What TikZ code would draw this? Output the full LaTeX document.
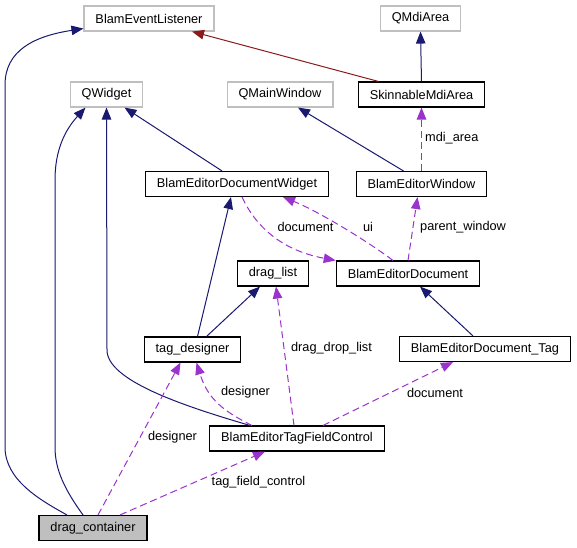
\documentclass[tikz,border=0pt]{standalone}
\usepackage{fontspec}
\setmainfont{Liberation Sans}
\usetikzlibrary{arrows.meta}
\definecolor{navy}{HTML}{191970}
\definecolor{orchid}{HTML}{9A32CD}
\definecolor{brick}{HTML}{8B1A1A}
\definecolor{grey75}{HTML}{BFBFBF}
\tikzset{
    mynode/.style = {rectangle, draw=black, line width=1.1pt, minimum height=25pt, inner xsep=11.5pt, inner ysep=2pt, font=\fontsize{12.75pt}{14pt}\selectfont},
    mynodeg/.style = {mynode, draw=grey75},
    mynodef/.style = {mynode, fill=grey75},
    lbl/.style = {inner sep=0pt, font=\fontsize{12.75pt}{14pt}\selectfont},
    edgen/.style = {-{Triangle[length=12pt,width=9.5pt]}, line width=1pt, navy},
    edger/.style = {-{Triangle[length=12pt,width=9.5pt]}, line width=1pt, brick},
    edgevd/.style = {-{Triangle[length=12pt,width=9.5pt]}, line width=1pt, orchid, dash pattern=on 7pt off 4pt} % usage
}

\begin{document}
\begin{tikzpicture}[x=1pt, y=-1pt]
\useasboundingbox (0,0) rectangle (577,547);

\node[mynodeg] (bel)  at (149,18.5)   {BlamEventListener};
\node[mynodeg] (qmdi) at (420.5,18.5) {QMdiArea};
\node[mynodeg] (qw)   at (106.5,94.5) {QWidget};
\node[mynodeg] (qmw)  at (280,94.5)   {QMainWindow};
\node[mynode]  (sma)  at (421.5,94.5) {SkinnableMdiArea};
\node[mynode]  (bedw) at (237,184)    {BlamEditorDocumentWidget};
\node[mynode]  (bew)  at (421.5,184)  {BlamEditorWindow};
\node[mynode]  (dl)   at (273,273.5)  {drag\_list};
\node[mynode]  (bed)  at (408,273.5)  {BlamEditorDocument};
\node[mynode]  (td)   at (192.5,349.5) {tag\_designer};
\node[mynode]  (bedt) at (485,349)    {BlamEditorDocument\_Tag};
\node[mynode]  (btfc) at (297,438.5)  {BlamEditorTagFieldControl};
\node[mynodef] (dc)   at (93,528)     {drag\_container};

% inheritance
\draw[edgen] ([xshift=-26pt]dc.north) .. controls (40,500) and (5,480) .. (5,447) -- (5,85) .. controls (5,50) and (35,36) .. ([yshift=3pt]bel.south west);
\draw[edgen] ([xshift=-10pt]dc.north) .. controls (65,490) and (55,470) .. (55,447) -- (55,180) .. controls (55,150) and (65,130) .. ([xshift=-21pt]qw.south);
\draw[edgen] ([xshift=-47pt]btfc.north) .. controls (180,405) and (107,380) .. (107,350) -- (qw.south);
\draw[edgen] ([xshift=-15pt]bedw.north) -- ([xshift=18pt]qw.south);
\draw[edgen] ([xshift=-18pt]bew.north) -- ([xshift=18pt]qmw.south);
\draw[edgen] (sma.north) -- (qmdi.south);
\draw[edger] ([xshift=-43pt]sma.north) -- ([xshift=43pt]bel.south);
\draw[edgen] ([xshift=5pt]td.north) -- ([xshift=-6pt]bedw.south);
\draw[edgen] ([xshift=14pt]td.north) -- ([xshift=-13pt]dl.south);
\draw[edgen] ([xshift=-12pt]bedt.north) -- ([xshift=12pt]bed.south);

% members
\draw[edgevd] (bew.north) -- (sma.south);
\draw[edgevd] (bed.north) -- ([xshift=-4pt]bew.south);
\draw[edgevd] ([xshift=-15pt]bed.north) .. controls (370,243) and (320,212) .. ([xshift=46pt]bedw.south);
\draw[edgevd] ([xshift=5pt]bedw.south) .. controls (255,225) and (280,250) .. (bed.north west);
\draw[edgevd] ([xshift=-3pt]btfc.north) -- ([xshift=3pt]dl.south);
\draw[edgevd] ([xshift=-45pt]btfc.north) .. controls (225,412) and (208,400) .. ([xshift=4pt]td.south);
\draw[edgevd] ([xshift=5pt]dc.north) -- ([xshift=-12pt]td.south);
\draw[edgevd] ([xshift=27pt]dc.north) -- ([xshift=-32pt]btfc.south);
\draw[edgevd] ([xshift=26pt]btfc.north) -- ([xshift=-32pt]bedt.south);

\node[lbl, anchor=west] (lmdi)    at (425,138.5) {mdi\_area};
\node[lbl, anchor=west] (lparent) at (420,227)   {parent\_window};
\node[lbl] (lui)   at (368,227)   {ui};
\node[lbl] (ldoc)  at (305.5,227) {document};
\node[lbl] (ldrag) at (331.5,348) {drag\_drop\_list};
\node[lbl] (ldes)  at (245.5,392.5) {designer};
\node[lbl] (ldesc) at (172.5,437.5) {designer};
\node[lbl] (ltfc)  at (258.5,482) {tag\_field\_control};
\node[lbl] (ldoct) at (435,392.5) {document};

\end{tikzpicture}
\end{document}
